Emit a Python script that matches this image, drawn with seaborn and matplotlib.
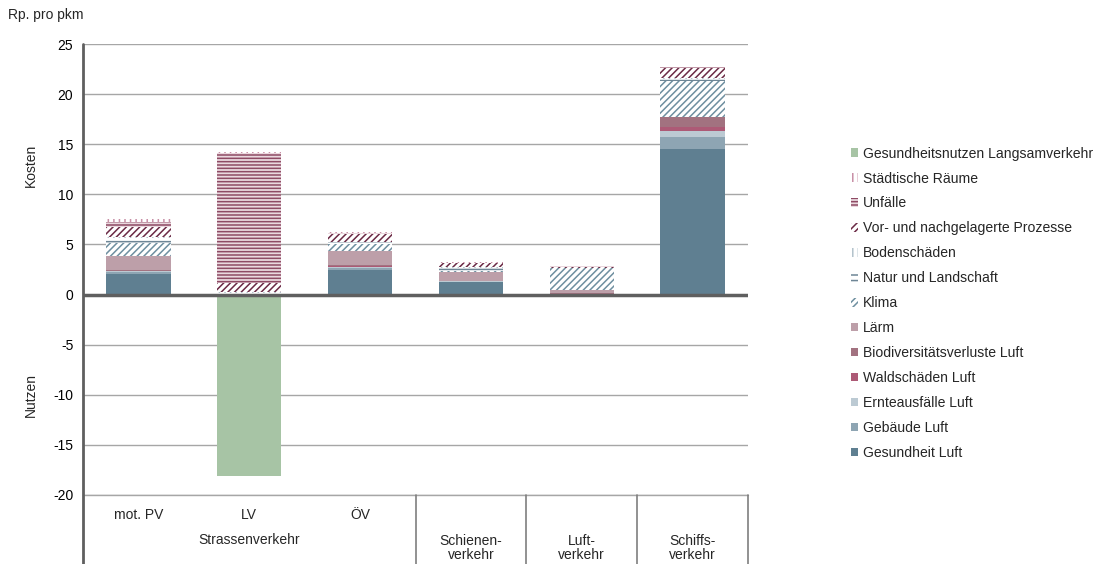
import numpy as np
import pandas as pd
import seaborn as sns
import matplotlib.pyplot as plt
import matplotlib.patches as mpatches

# Kategorien und Werte (Rp. pro pkm)
kategorien = ["mot. PV", "LV", "ÖV", "Schiene", "Luft", "Schiff"]

gesundheit_luft = [2.1, 0.0, 2.5, 1.25, 0.05, 14.5]
gebaeude_luft = [0.2, 0.0, 0.15, 0.05, 0.02, 1.2]
ernteausfaelle_luft = [0.05, 0.0, 0.05, 0.02, 0.02, 0.6]
waldschaeden_luft = [0.05, 0.0, 0.1, 0.02, 0.0, 0.4]
biodiversitaet_luft = [0.1, 0.0, 0.1, 0.05, 0.02, 1.0]
laerm = [1.3, 0.0, 1.4, 0.9, 0.3, 0.05]
klima = [1.3, 0.0, 0.7, 0.1, 2.2, 3.6]
natur_landschaft = [0.5, 0.2, 0.2, 0.3, 0.02, 0.15]
bodenschaeden = [0.1, 0.05, 0.05, 0.1, 0.0, 0.15]
vor_nach = [1.0, 0.9, 0.8, 0.35, 0.15, 1.0]
unfaelle = [0.5, 13.0, 0.1, 0.05, 0.02, 0.05]
staedtische_raeume = [0.3, 0.1, 0.1, 0.05, 0.0, 0.05]
gesundheitsnutzen_lv = [0.0, -18.1, 0.0, 0.0, 0.0, 0.0]

# (Name, Werte, Füllfarbe, Schraffurfarbe, Schraffur)
serien = [
    ("Gesundheit Luft", gesundheit_luft, "#5f7f91", None, None),
    ("Gebäude Luft", gebaeude_luft, "#8ea5b3", None, None),
    ("Ernteausfälle Luft", ernteausfaelle_luft, "#bccad3", None, None),
    ("Waldschäden Luft", waldschaeden_luft, "#ad5a76", None, None),
    ("Biodiversitätsverluste Luft", biodiversitaet_luft, "#a27280", None, None),
    ("Lärm", laerm, "#bd9fa9", None, None),
    ("Klima", klima, "white", "#6e8fa0", "/////"),
    ("Natur und Landschaft", natur_landschaft, "white", "#6e8696", "---"),
    ("Bodenschäden", bodenschaeden, "white", "#b3c3cc", "|||"),
    ("Vor- und nachgelagerte Prozesse", vor_nach, "white", "#6b2a45", "/////"),
    ("Unfälle", unfaelle, "#ead8de", "#8e4a64", "-----"),
    ("Städtische Räume", staedtische_raeume, "white", "#c88fa6", "|||"),
    ("Gesundheitsnutzen Langsamverkehr", gesundheitsnutzen_lv, "#a7c4a5", None, None),
]

sns.set_theme(style="white")
plt.rcParams["font.family"] = ["Liberation Sans", "DejaVu Sans"]
plt.rcParams["hatch.linewidth"] = 1.1
plt.rcParams["axes.unicode_minus"] = False

fs = 10

fig = plt.figure(figsize=(11.01, 5.64), dpi=100)
ax = fig.add_axes([83 / 1101, (564 - 495) / 564, 665 / 1101, 451 / 564])

bottom_pos = np.zeros(len(kategorien))
bottom_neg = np.zeros(len(kategorien))
for name, werte, farbe, hfarbe, hatch in serien:
    werte = np.array(werte, dtype=float)
    unten = np.where(werte >= 0, bottom_pos, bottom_neg)
    df = pd.DataFrame({"kat": kategorien, "wert": werte})
    n0 = len(ax.patches)
    sns.barplot(data=df, x="kat", y="wert", order=kategorien, bottom=unten,
                color=farbe, saturation=1, width=0.58, ax=ax, errorbar=None)
    for p in ax.patches[n0:]:
        p.set_facecolor(farbe)
        p.set_linewidth(0)
        if hatch:
            p.set_hatch(hatch)
            p.set_edgecolor(hfarbe)
        else:
            p.set_edgecolor(farbe)
    bottom_pos = bottom_pos + np.clip(werte, 0, None)
    bottom_neg = bottom_neg + np.clip(werte, None, 0)

ax.set_ylim(-20, 25)
ax.set_xlim(-0.5, 5.5)
ax.set_yticks(range(-20, 26, 5))
ax.yaxis.grid(True, color="#a6a6a6", linewidth=1)
ax.set_axisbelow(True)
ax.axhline(-20, color="#a6a6a6", linewidth=1, clip_on=False, zorder=0)
ax.axhline(0, color="#5f5f5f", linewidth=2.5, zorder=5)
for s in ["top", "right", "bottom", "left"]:
    ax.spines[s].set_visible(False)
ax.tick_params(axis="y", labelsize=fs, colors="#000000", length=0, pad=7)
ax.set_xticks([])
ax.set_xlabel("")
ax.set_ylabel("")

# linke Achse und Trennlinien der Kategorien
xt = ax.get_xaxis_transform()
unten_fig = -69 / 451
ax.plot([-0.5, -0.5], [unten_fig, 1], transform=xt, color="#5f5f5f",
        linewidth=2, clip_on=False, zorder=6)
for xs in [2.5, 3.5, 4.5, 5.5]:
    ax.plot([xs, xs], [unten_fig, 0], transform=xt, color="#7f7f7f",
            linewidth=1.2, clip_on=False)

for i, lab in enumerate(["mot. PV", "LV", "ÖV"]):
    ax.text(i, -20 / 451, lab, transform=xt, ha="center", va="center", fontsize=fs)
ax.text(1, -45 / 451, "Strassenverkehr", transform=xt, ha="center", va="center", fontsize=fs)
for i, lab in zip([3, 4, 5], ["Schienen-\nverkehr", "Luft-\nverkehr", "Schiffs-\nverkehr"]):
    ax.text(i, -53 / 451, lab, transform=xt, ha="center", va="center",
            fontsize=fs, linespacing=1.05)

fig.text(8 / 1101, 1 - 15 / 564, "Rp. pro pkm", ha="left", va="center", fontsize=fs)
fig.text(31 / 1101, 1 - 165 / 564, "Kosten", rotation=90, ha="center", va="center", fontsize=fs)
fig.text(31 / 1101, 1 - 395 / 564, "Nutzen", rotation=90, ha="center", va="center", fontsize=fs)

# Legende in umgekehrter Reihenfolge
handles = []
for name, werte, farbe, hfarbe, hatch in reversed(serien):
    if hatch:
        h = mpatches.Patch(facecolor=farbe, edgecolor=hfarbe, hatch=hatch, linewidth=0, label=name)
    else:
        h = mpatches.Patch(facecolor=farbe, edgecolor=farbe, linewidth=0, label=name)
    handles.append(h)
fig.legend(handles=handles, loc="upper left", bbox_to_anchor=(845 / 1101, 1 - 141 / 564),
           frameon=False, fontsize=10.1, handlelength=0.55, handleheight=0.55,
           handletextpad=0.3, labelspacing=0.78, borderaxespad=0)

fig.savefig("out.png", dpi=100)
